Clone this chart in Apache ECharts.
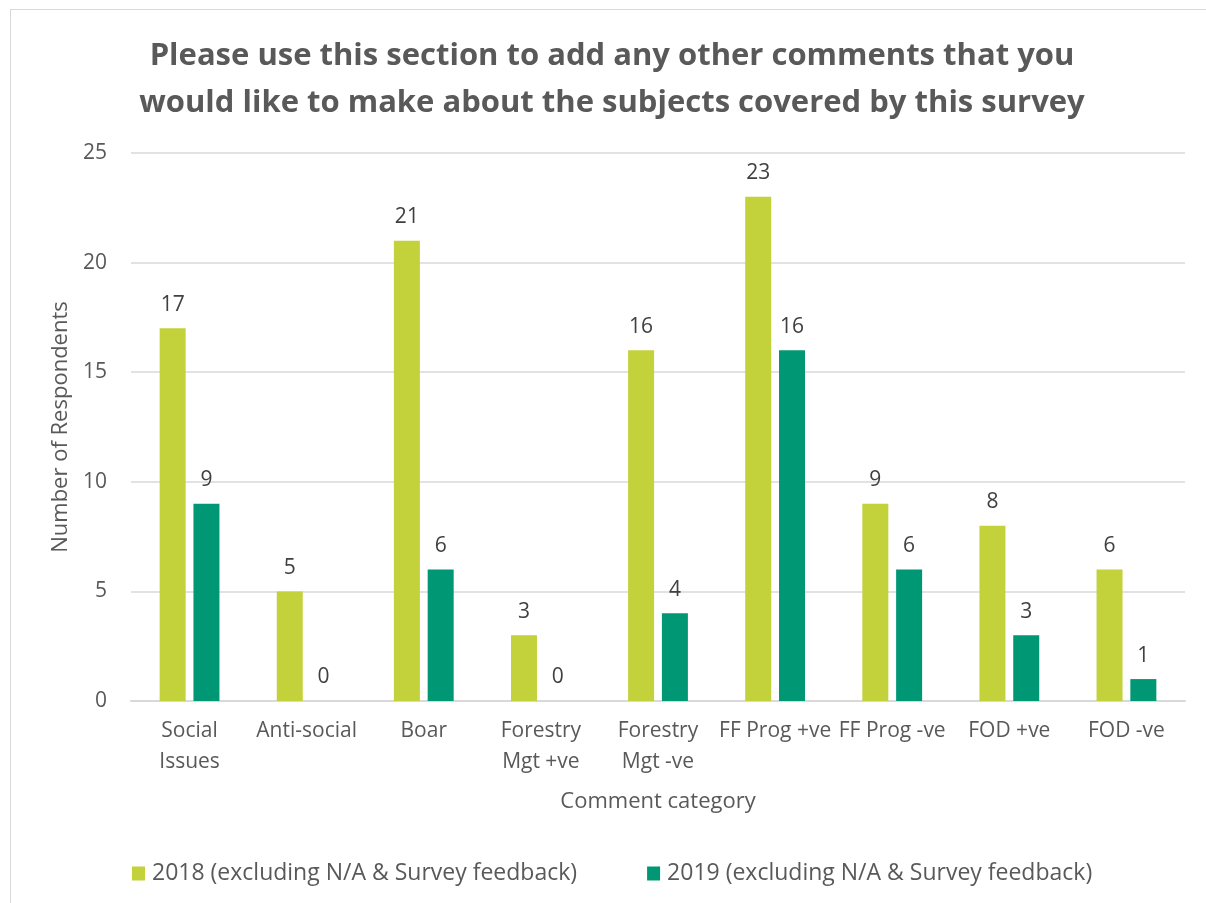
<!DOCTYPE html>
<html><head><meta charset="utf-8">
<script src="https://cdn.jsdelivr.net/npm/echarts@6/dist/echarts.min.js"></script>
<style>
html,body{margin:0;padding:0;background:#fff;}
#frame{position:absolute;left:10px;top:9px;width:1210px;height:910px;border:1px solid #d9d9d9;box-sizing:border-box;}
#chart{position:absolute;left:0;top:0;width:1206px;height:903px;}
</style></head>
<body>
<div id="frame"></div>
<div id="chart"></div>
<script>
const categories = ["Social\nIssues","Anti-social","Boar","Forestry\nMgt +ve","Forestry\nMgt -ve","FF Prog +ve","FF Prog -ve","FOD +ve","FOD -ve"];
const series2018 = [17,5,21,3,16,23,9,8,6];
const series2019 = [9,0,6,0,4,16,6,3,1];
const seriesNames = ["2018 (excluding N/A & Survey feedback)","2019 (excluding N/A & Survey feedback)"];
const titleText = "Please use this section to add any other comments that you\nwould like to make about the subjects covered by this survey";

const FONT = "Open Sans";
const txt = "#595959";
const chart = echarts.init(document.getElementById('chart'));
const lbl = {show:true, position:'top', distance:13, color:'#404040', fontSize:21, fontFamily:FONT};
chart.setOption({
  animation:false,
  title:{text:titleText, left:607, top:28, textAlign:'center', textStyle:{fontFamily:FONT, fontWeight:'bold', fontSize:31, color:txt, lineHeight:47}},
  legend:{bottom:13, left:127, itemWidth:13, itemHeight:14, itemGap:70, icon:'rect',
    textStyle:{fontFamily:FONT, fontSize:23, color:txt, padding:[0,0,0,2]}},
  grid:{left:131, right:21, top:153, bottom:202},
  xAxis:{type:'category', data:categories, name:'Comment category', nameLocation:'middle', nameGap:90,
    nameTextStyle:{fontFamily:FONT, fontSize:22, color:txt},
    axisLine:{lineStyle:{color:'#d9d9d9', width:2}}, axisTick:{show:false},
    axisLabel:{fontFamily:FONT, fontSize:21, color:txt, margin:15, lineHeight:31, interval:0}},
  yAxis:{type:'value', min:0, max:25, interval:5, name:'Number of Respondents', nameLocation:'middle', nameGap:58,
    nameTextStyle:{fontFamily:FONT, fontSize:22, color:txt},
    axisLine:{show:false}, axisTick:{show:false},
    axisLabel:{fontFamily:FONT, fontSize:21, color:txt, margin:24},
    splitLine:{lineStyle:{color:'#d9d9d9', width:1.5}}},
  series:[
    {name:seriesNames[0], type:'bar', data:series2018, barWidth:26, barGap:'30%', itemStyle:{color:'#c3d13b'}, label:lbl},
    {name:seriesNames[1], type:'bar', data:series2019, barWidth:26, itemStyle:{color:'#009775'}, label:lbl}
  ]
});
</script>
</body></html>
